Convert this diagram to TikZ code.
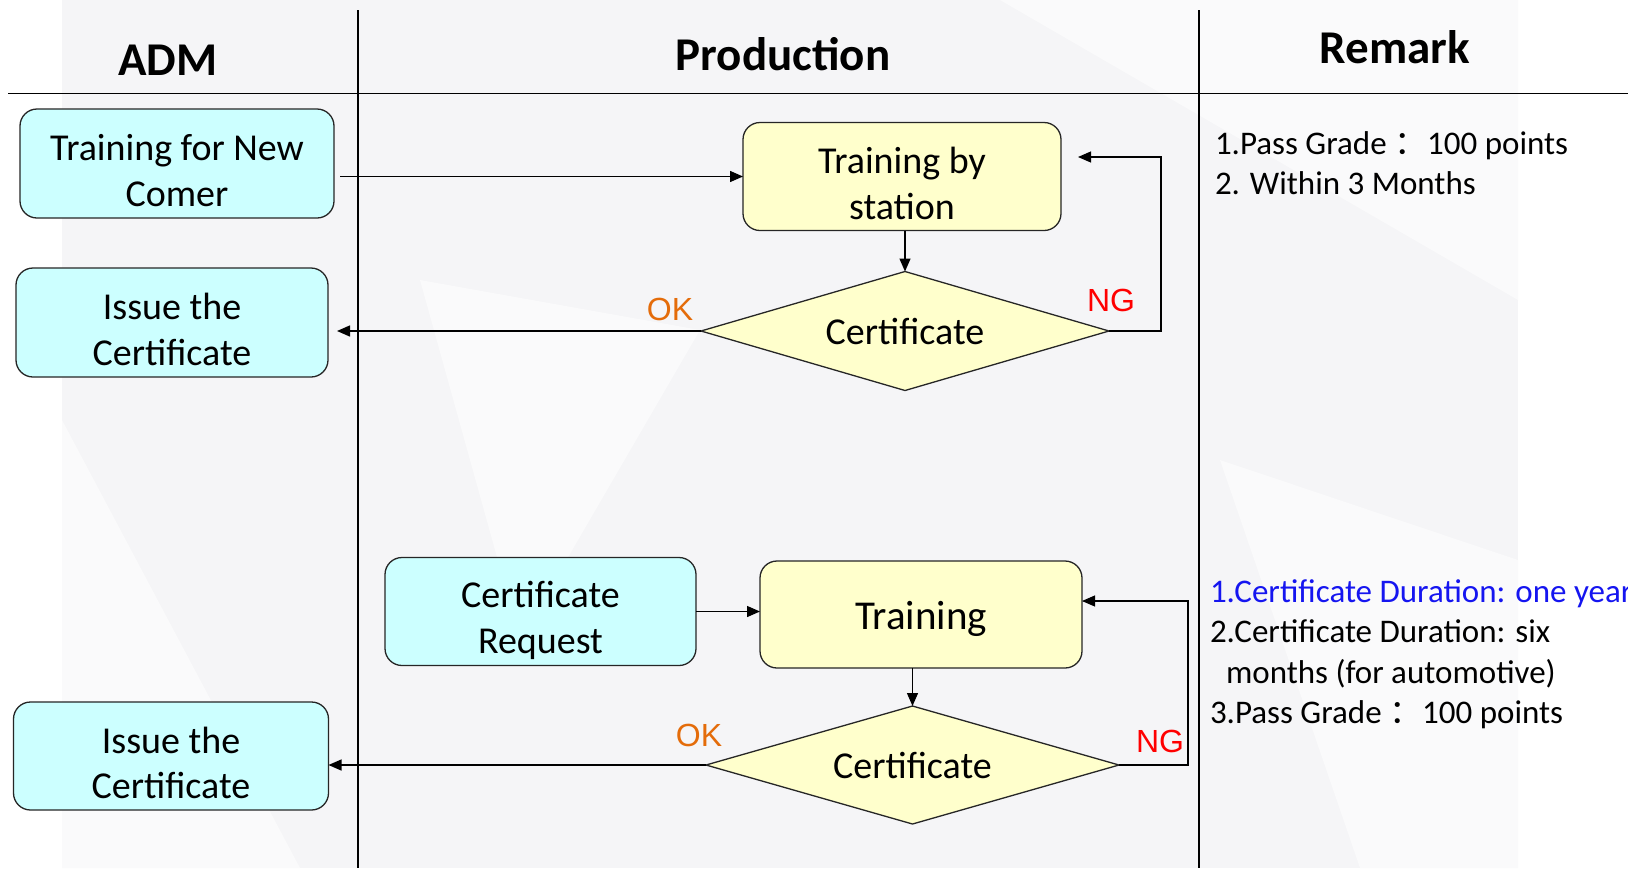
\documentclass[tikz,border=0pt]{standalone}
\usepackage{fontspec}
\setmainfont{Carlito}
\newfontfamily\arialfont{Liberation Sans}
\newfontfamily\cjk{Noto Sans CJK SC}
\usetikzlibrary{arrows.meta}
\definecolor{boxcyan}{HTML}{CCFFFF}
\definecolor{boxyellow}{HTML}{FFFFCC}
\definecolor{okorange}{HTML}{E46C0A}
\definecolor{ngred}{HTML}{FF0000}
\definecolor{noteblue}{HTML}{1515F0}
\definecolor{bgtint}{HTML}{F5F5F7}
\definecolor{bglight}{HTML}{FAFAFB}
\begin{document}
\begin{tikzpicture}[x=1pt,y=-1pt,
  every node/.style={inner sep=0pt, outer sep=0pt},
  procbox/.style={draw=black!85, line width=1.3pt, rounded corners=17pt},
  admbox/.style={procbox, fill=boxcyan},
  workbox/.style={procbox, fill=boxyellow},
  boxtext/.style={align=center, font=\fontsize{38}{45.6}\selectfont},
  decisionframe/.style={draw=none, fill=none},
  decisionfill/.style={draw=black!85, line width=1.3pt, fill=boxyellow, line join=miter},
  flow/.style={draw=black, line width=1.4pt, -{Triangle[length=13pt,width=11pt]}},
  loopback/.style={flow, line width=1.1pt},
  header/.style={font=\fontsize{47}{50}\selectfont\bfseries},
  note/.style={anchor=west, align=left, font=\fontsize{33}{40.5}\selectfont},
  oklabel/.style={font=\arialfont\fontsize{32}{36}\selectfont, text=okorange},
  nglabel/.style={font=\arialfont\fontsize{32}{36}\selectfont, text=ngred},
  lane/.style={draw=black, line width=1.1pt}
]
\useasboundingbox (0,0) rectangle (1628,868);

% soft backdrop
\fill[white] (0,0) rectangle (1628,868);
\fill[bgtint] (62,0) rectangle (1518,868);
\fill[bglight] (62,420) -- (300,868) -- (62,868) -- cycle;
\fill[bglight] (420,280) -- (700,330) -- (520,640) -- cycle;
\fill[bglight] (1000,0) -- (1518,0) -- (1518,300) -- cycle;
\fill[bglight] (1220,460) -- (1518,560) -- (1518,868) -- (1360,868) -- cycle;

% swimlane rules
\draw[lane] (8,93.5) -- (1628,93.5);
\draw[lane] (358,10) -- (358,868);
\draw[lane] (1199,10) -- (1199,868);

% lane headings
\node[header] (hadm) at (168,60) {ADM};
\node[header] (hprod) at (783,54) {Production};
\node[header] (hrem) at (1395,47) {Remark};

% new comer flow
\node[admbox, minimum width=314pt, minimum height=109pt] (newc) at (177,163.5) {};
\node[boxtext] (newct) at ([shift={(0,7)}]newc.center) {Training for New\\Comer};
\node[admbox, minimum width=312pt, minimum height=109pt] (iss1) at (172,322.5) {};
\node[boxtext] (iss1t) at ([shift={(0,7)}]iss1.center) {Issue the\\Certificate};
\node[workbox, minimum width=318pt, minimum height=108pt] (stat) at (902,176.5) {};
\node[boxtext] (statt) at ([shift={(0,7)}]stat.center) {Training by\\station};
\node[decisionframe, minimum width=408pt, minimum height=119pt] (cert1) at (905,331) {};
\draw[decisionfill] (cert1.north) -- (cert1.east) -- (cert1.south) -- (cert1.west) -- cycle;
\node[boxtext] (cert1t) at (cert1.center) {Certificate};

\draw[flow] ([xshift=6pt]newc.east |- stat.west) -- (stat.west);
\draw[flow] (cert1.north |- stat.south) -- (cert1.north);
\draw[flow] (cert1.west) -- ([xshift=9pt]iss1.east |- cert1.west);
\coordinate (ngturn1) at (1161,157);
\draw[loopback] (cert1.east) -| (ngturn1) -- ([xshift=17pt]stat.east |- ngturn1);
\node[oklabel] (ok1) at (670,309) {OK};
\node[nglabel] (ng1) at (1111,300) {NG};

% renewal flow
\node[admbox, minimum width=311pt, minimum height=108pt] (req) at (540.5,611.5) {};
\node[boxtext] (reqt) at ([shift={(0,9)}]req.center) {Certificate\\Request};
\node[workbox, minimum width=322pt, minimum height=107pt] (train) at (921,614.5) {};
\node[boxtext, font=\fontsize{41}{48}\selectfont] (traint) at ([shift={(0,4)}]train.center) {Training};
\node[decisionframe, minimum width=413pt, minimum height=118pt] (cert2) at (912.5,765) {};
\draw[decisionfill] (cert2.north) -- (cert2.east) -- (cert2.south) -- (cert2.west) -- cycle;
\node[boxtext] (cert2t) at (cert2.center) {Certificate};
\node[admbox, minimum width=315pt, minimum height=108pt] (iss2) at (171,756) {};
\node[boxtext] (iss2t) at ([shift={(0,7)}]iss2.center) {Issue the\\Certificate};

\draw[flow] (req.east) -- (train.west |- req.east);
\draw[flow] (cert2.north |- train.south) -- (cert2.north);
\draw[flow] (cert2.west) -- (iss2.east |- cert2.west);
\coordinate (ngturn2) at (1188,601);
\draw[loopback] (cert2.east) -| (ngturn2) -- (train.east |- ngturn2);
\node[oklabel] (ok2) at (699,735) {OK};
\node[nglabel] (ng2) at (1160,741) {NG};

% remarks
\node[note] (rem1) at (1215,163) {1.Pass Grade {\cjk ：}100 points\\2. Within 3 Months};
\node[note] (rem2) at (1210,654) {{\color{noteblue}1.Certificate Duration: one year}\\2.Certificate Duration: six\\\hspace*{16pt}months (for automotive)\\3.Pass Grade {\cjk ：}100 points};
\end{tikzpicture}
\end{document}
